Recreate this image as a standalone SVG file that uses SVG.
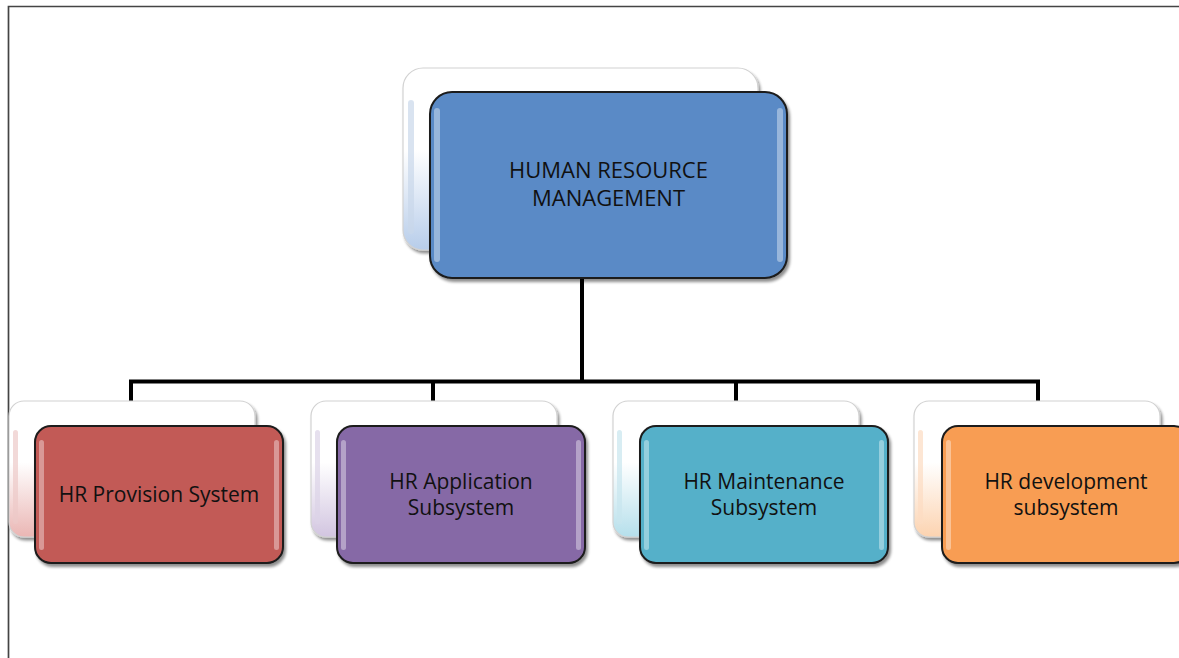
<svg xmlns="http://www.w3.org/2000/svg" width="1179" height="658" viewBox="0 0 1179 658">
<defs>
<style>
.label{font-family:"Open Sans","Noto Sans",sans-serif;fill:#111;text-anchor:middle}
.top{font-size:22px}
.sub{font-size:21px}
.back{stroke:#d2d2d2;stroke-width:1.2}
.front{stroke:#1b1b1b;stroke-width:2}
.hl{fill:#fff;opacity:.38}
.conn{fill:none;stroke:#000;stroke-width:4;stroke-linejoin:miter}
.frame{fill:none;stroke:#444;stroke-width:1.7}
</style>
<filter id="sh" x="-10%" y="-10%" width="125%" height="135%">
<feGaussianBlur in="SourceAlpha" stdDeviation="1.5"/>
<feOffset dx="1.5" dy="3"/>
<feComponentTransfer><feFuncA type="linear" slope="0.45"/></feComponentTransfer>
<feMerge><feMergeNode/><feMergeNode in="SourceGraphic"/></feMerge>
</filter>
<linearGradient id="gBlue" x1="0" y1="0" x2="0" y2="1"><stop offset="0" stop-color="#fff"/><stop offset=".45" stop-color="#fff"/><stop offset="1" stop-color="#b7cdea"/></linearGradient>
<linearGradient id="gRed" x1="0" y1="0" x2="0" y2="1"><stop offset="0" stop-color="#fff"/><stop offset=".45" stop-color="#fff"/><stop offset="1" stop-color="#eab6b4"/></linearGradient>
<linearGradient id="gPurple" x1="0" y1="0" x2="0" y2="1"><stop offset="0" stop-color="#fff"/><stop offset=".45" stop-color="#fff"/><stop offset="1" stop-color="#d2c5e0"/></linearGradient>
<linearGradient id="gTeal" x1="0" y1="0" x2="0" y2="1"><stop offset="0" stop-color="#fff"/><stop offset=".45" stop-color="#fff"/><stop offset="1" stop-color="#b5dfeb"/></linearGradient>
<linearGradient id="gOrange" x1="0" y1="0" x2="0" y2="1"><stop offset="0" stop-color="#fff"/><stop offset=".45" stop-color="#fff"/><stop offset="1" stop-color="#fcd3b0"/></linearGradient>
</defs>

<path class="frame" d="M8.5,658 V6.5 H1179"/>

<g id="connectors">
<path class="conn" d="M582,278 V381.5"/>
<path class="conn" d="M131,401 V381.5 H1038 V401"/>
<path class="conn" d="M433,381.5 V401"/>
<path class="conn" d="M736,381.5 V401"/>
</g>

<g id="node-hrm">
<rect class="back" x="403" y="68" width="355" height="182" rx="20" fill="url(#gBlue)" filter="url(#sh)"/>
<rect x="408" y="100" width="6" height="134" rx="3" fill="#c9d7ea" opacity=".7"/>
<rect class="front" x="430" y="92" width="357" height="186" rx="22" fill="#5a8ac6" filter="url(#sh)"/>
<rect class="hl" x="434" y="108" width="6" height="154" rx="3"/>
<rect class="hl" x="777" y="108" width="6" height="154" rx="3"/>
<text class="label top" x="608.5" y="178">HUMAN RESOURCE<tspan x="608.5" y="206">MANAGEMENT</tspan></text>
</g>

<g id="node-provision">
<rect class="back" x="9" y="401" width="246" height="136" rx="15" fill="url(#gRed)" filter="url(#sh)"/>
<rect x="13" y="430" width="5" height="94" rx="2.5" fill="#ecc9c8" opacity=".7"/>
<rect class="front" x="35" y="426" width="248" height="137" rx="16" fill="#c25a56" filter="url(#sh)"/>
<rect class="hl" x="39" y="440" width="5" height="110" rx="2.5"/>
<rect class="hl" x="274" y="440" width="5" height="110" rx="2.5"/>
<text class="label sub" x="159" y="502">HR Provision System</text>
</g>

<g id="node-application">
<rect class="back" x="311" y="401" width="246" height="136" rx="15" fill="url(#gPurple)" filter="url(#sh)"/>
<rect x="315" y="430" width="5" height="94" rx="2.5" fill="#dcd3e7" opacity=".7"/>
<rect class="front" x="337" y="426" width="248" height="137" rx="16" fill="#8669a6" filter="url(#sh)"/>
<rect class="hl" x="341" y="440" width="5" height="110" rx="2.5"/>
<rect class="hl" x="576" y="440" width="5" height="110" rx="2.5"/>
<text class="label sub" x="461" y="489">HR Application<tspan x="461" y="515">Subsystem</tspan></text>
</g>

<g id="node-maintenance">
<rect class="back" x="613" y="401" width="246" height="136" rx="15" fill="url(#gTeal)" filter="url(#sh)"/>
<rect x="617" y="430" width="5" height="94" rx="2.5" fill="#c8e5ee" opacity=".7"/>
<rect class="front" x="640" y="426" width="248" height="137" rx="16" fill="#54b0c9" filter="url(#sh)"/>
<rect class="hl" x="644" y="440" width="5" height="110" rx="2.5"/>
<rect class="hl" x="879" y="440" width="5" height="110" rx="2.5"/>
<text class="label sub" x="764" y="489">HR Maintenance<tspan x="764" y="515">Subsystem</tspan></text>
</g>

<g id="node-development">
<rect class="back" x="914" y="401" width="246" height="136" rx="15" fill="url(#gOrange)" filter="url(#sh)"/>
<rect x="918" y="430" width="5" height="94" rx="2.5" fill="#fcdcc2" opacity=".7"/>
<rect class="front" x="942" y="426" width="248" height="137" rx="16" fill="#f89d53" filter="url(#sh)"/>
<rect class="hl" x="946" y="440" width="5" height="110" rx="2.5"/>
<text class="label sub" x="1066" y="489">HR development<tspan x="1066" y="515">subsystem</tspan></text>
</g>
</svg>
